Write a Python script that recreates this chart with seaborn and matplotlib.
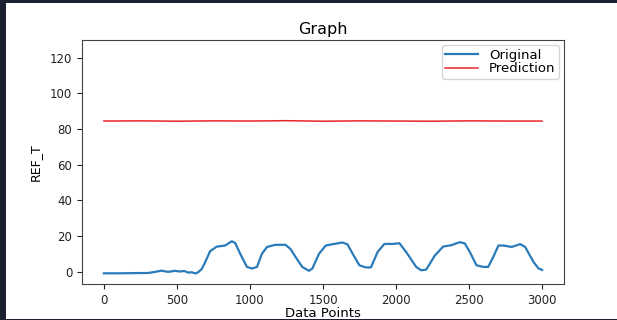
import matplotlib
matplotlib.use("Agg")
import matplotlib.pyplot as plt
import seaborn as sns
from matplotlib.patches import Rectangle

# values
orig_x = [0, 100, 200, 303, 350, 394, 440, 486, 520, 550, 578, 601, 628, 647,
          670, 693, 727, 773, 830, 876, 899, 933, 979, 1014, 1048, 1082, 1117,
          1174, 1243, 1277, 1312, 1358, 1404, 1427, 1473, 1519, 1576, 1634,
          1668, 1703, 1749, 1794, 1828, 1874, 1920, 1977, 2023, 2069, 2138,
          2172, 2207, 2264, 2322, 2379, 2436, 2471, 2505, 2551, 2597, 2631,
          2666, 2701, 2735, 2792, 2850, 2884, 2941, 2976, 3000]
orig_y = [-1.0, -1.0, -0.9, -0.8, -0.2, 0.5, -0.2, 0.4, 0.0, 0.3, -0.6, -0.4,
          -1.1, -0.3, 1.5, 5.2, 11.4, 14.0, 14.6, 17.0, 16.0, 10.0, 2.6, 1.7,
          2.6, 10.0, 13.8, 15.0, 15.0, 12.7, 8.2, 2.6, 0.4, 1.7, 10.0, 14.6,
          15.5, 16.3, 15.2, 10.0, 3.5, 2.3, 2.3, 11.0, 15.5, 15.5, 15.9, 11.0,
          2.6, 0.7, 1.1, 8.8, 14.0, 14.8, 16.5, 15.8, 11.0, 3.5, 2.6, 2.6, 8.2,
          14.6, 14.6, 13.8, 15.4, 13.8, 5.4, 1.7, 0.9]

pred_x = [0, 250, 500, 750, 1000, 1250, 1500, 1750, 2000, 2250, 2500, 2750, 3000]
pred_y = [84.5, 84.6, 84.4, 84.6, 84.5, 84.7, 84.4, 84.6, 84.5, 84.4, 84.6, 84.5, 84.5]

fig = plt.figure(figsize=(6.17, 3.2), dpi=100, facecolor="#1b2130")
# white notebook cell behind the plot
fig.patches.append(Rectangle((6 / 617, 1 / 320), 1, 316 / 320,
                             transform=fig.transFigure, facecolor="white",
                             edgecolor="none", zorder=-5))
ax = fig.add_axes([82 / 617, 36 / 320, 482 / 617, 244 / 320])

sns.lineplot(x=orig_x, y=orig_y, ax=ax, color="#2a7bba", linewidth=1.6,
             label="Original")
sns.lineplot(x=pred_x, y=pred_y, ax=ax, color="#e8262a", linewidth=1.1,
             label="Prediction")

ax.set_xlim(-150, 3150)
ax.set_ylim(-7, 130)
ax.set_yticks([0, 20, 40, 60, 80, 100, 120])
ax.set_xticks([0, 500, 1000, 1500, 2000, 2500, 3000])
ax.tick_params(labelsize=8.5, colors="#222222")
for s in ax.spines.values():
    s.set_color("#444444")
ax.set_title("Graph", fontsize=11.5, pad=4)
ax.set_xlabel("Data Points", fontsize=9.5, labelpad=0)
ax.set_ylabel("REF_T", fontsize=9, labelpad=6)
ax.legend(loc="upper right", fontsize=9.5, labelspacing=0.05,
          borderpad=0.25, handlelength=2.5, borderaxespad=0.4)

fig.savefig("out.png", dpi=100, facecolor=fig.get_facecolor())
